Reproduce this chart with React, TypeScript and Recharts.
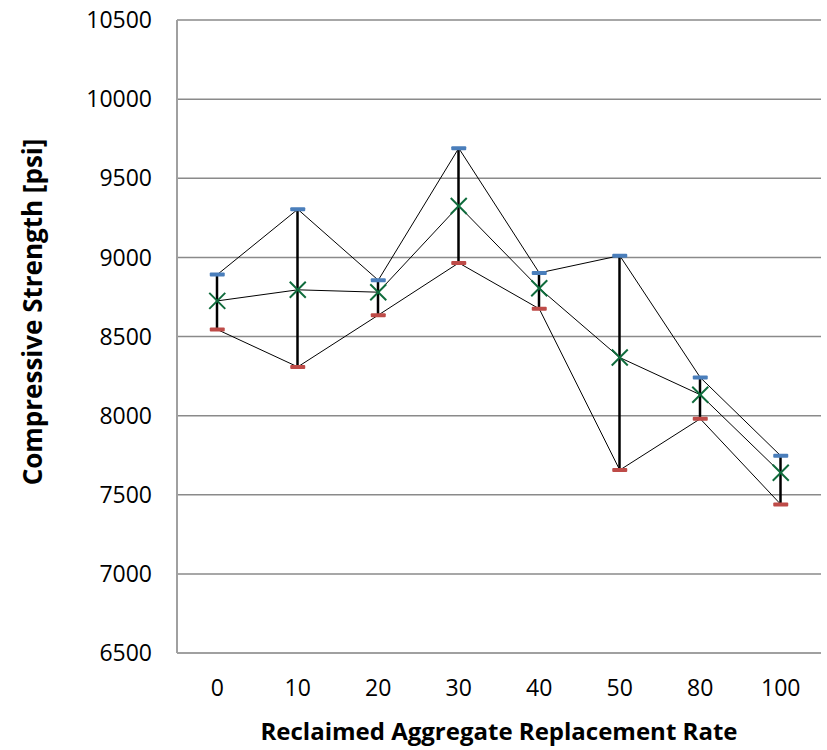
import { ComposedChart, Bar, Line, XAxis, YAxis, CartesianGrid } from 'recharts'

const rates = ['0', '10', '20', '30', '40', '50', '80', '100']
const highs = [8891, 9304, 8856, 9690, 8902, 9011, 8241, 7746]
const lows = [8544, 8308, 8635, 8965, 8675, 7656, 7980, 7439]
const means = [8725, 8795, 8780, 9325, 8805, 8367, 8132, 7639]
const yTicks = [6500, 7000, 7500, 8000, 8500, 9000, 9500, 10000, 10500]

const data = rates.map((rate, i) => ({
  rate,
  high: highs[i],
  low: lows[i],
  mean: means[i],
  range: [lows[i], highs[i]]
}))

const font = 'Open Sans, sans-serif'

const HighLow = (props: any) => {
  const { x, y, width, height } = props
  const cx = x + width / 2
  return <line x1={cx} x2={cx} y1={y} y2={y + height} stroke="#000" strokeWidth={2.5} />
}

const dash = (color: string) => (props: any) => {
  const { cx, cy, index } = props
  if (cx == null || cy == null) return <g key={index} />
  return <rect key={index} x={cx - 7.5} y={cy - 2} width={15} height={4} rx={1} fill={color} />
}

const Cross = (props: any) => {
  const { cx, cy, index } = props
  if (cx == null || cy == null) return <g key={index} />
  const s = 8
  return (
    <g key={index} stroke="#0E6B3B" strokeWidth={2}>
      <line x1={cx - s} y1={cy - s} x2={cx + s} y2={cy + s} />
      <line x1={cx - s} y1={cy + s} x2={cx + s} y2={cy - s} />
    </g>
  )
}

const YTitle = () => (
  <text
    x={32}
    y={312}
    transform="rotate(-90, 32, 312)"
    textAnchor="middle"
    dominantBaseline="central"
    fill="#000"
    fontSize={26}
    fontWeight="bold"
    fontFamily={font}
  >
    Compressive Strength [psi]
  </text>
)

export default function App() {
  return (
    <div style={{ position: 'absolute', left: 0, top: 0, background: '#fff' }}>
      <ComposedChart
        width={827}
        height={750}
        data={data}
        margin={{ top: 20, right: 6, bottom: 45, left: 0 }}
      >
        <CartesianGrid vertical={false} stroke="#8a8a8a" strokeWidth={1.5} />
        <XAxis
          dataKey="rate"
          axisLine={{ stroke: '#a0a0a0', strokeWidth: 2 }}
          tickLine={false}
          tick={{ fill: '#000', fontSize: 23, fontFamily: font }}
          tickMargin={21}
          height={52}
          label={{
            value: 'Reclaimed Aggregate Replacement Rate',
            position: 'insideBottom',
            offset: -35,
            fill: '#000',
            fontSize: 24,
            fontWeight: 'bold',
            fontFamily: font
          }}
        />
        <YAxis
          domain={[6500, 10500]}
          ticks={yTicks}
          width={177}
          axisLine={{ stroke: '#a0a0a0', strokeWidth: 2 }}
          tickLine={false}
          tick={{ fill: '#000', fontSize: 23, fontFamily: font }}
          tickMargin={19}
          label={{ content: YTitle }}
        />
        <Bar dataKey="range" barSize={4} shape={HighLow} isAnimationActive={false} />
        <Line dataKey="high" type="linear" stroke="#000" strokeWidth={1} dot={dash('#4A7EBB')} activeDot={false} isAnimationActive={false} />
        <Line dataKey="low" type="linear" stroke="#000" strokeWidth={1} dot={dash('#BE4B48')} activeDot={false} isAnimationActive={false} />
        <Line dataKey="mean" type="linear" stroke="#000" strokeWidth={1} dot={Cross} activeDot={false} isAnimationActive={false} />
      </ComposedChart>
    </div>
  )
}
